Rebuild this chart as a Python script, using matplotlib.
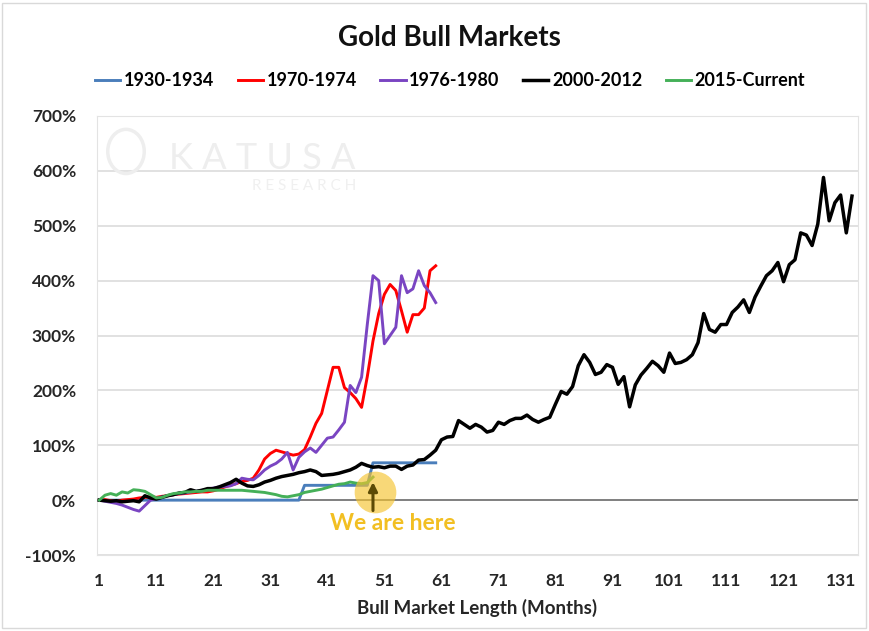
import matplotlib.pyplot as plt
from matplotlib.patches import Rectangle, Ellipse
from matplotlib.ticker import FuncFormatter

plt.rcParams['font.family'] = ['Lato', 'DejaVu Sans']

# months since start of each bull market, value = % gain
gold_1930 = [0] * 36 + [27] * 12 + [68] * 12

gold_1970 = [0, 1, -1, -2, 0, 1, 2, 4, 5, 6,
             5, 7, 8, 10, 11, 12, 13, 14, 15, 15,
             17, 20, 24, 27, 30, 34, 36, 40, 55, 75,
             85, 91, 88, 85, 82, 84, 92, 115, 140, 158,
             200, 242, 242, 205, 196, 185, 169, 225, 290, 340,
             375, 393, 382, 345, 306, 338, 338, 350, 418, 427]

gold_1976 = [0, -2, -4, -6, -9, -13, -17, -20, -10, 0,
             3, 6, 8, 10, 12, 13, 15, 16, 18, 20,
             22, 24, 25, 26, 30, 40, 38, 37, 45, 55,
             62, 67, 75, 87, 55, 78, 88, 95, 87, 100,
             113, 115, 128, 142, 209, 196, 224, 320, 409, 400,
             285, 300, 315, 409, 378, 385, 418, 391, 378, 360]

gold_2000 = [0, -1, -2, -1, -3, -2, -1, -3, 8, 4,
             2, 5, 8, 10, 13, 14, 19, 16, 18, 21,
             21, 24, 28, 32, 38, 31, 26, 25, 28, 33,
             36, 40, 43, 45, 47, 50, 52, 55, 52, 45,
             46, 47, 49, 52, 55, 60, 67, 63, 60, 61,
             59, 62, 62, 56, 62, 64, 73, 74, 82, 91,
             110, 115, 116, 145, 138, 131, 138, 133, 124, 127,
             142, 138, 145, 149, 149, 155, 147, 142, 147, 151,
             175, 198, 193, 207, 245, 265, 251, 229, 233, 247,
             242, 211, 225, 170, 210, 228, 240, 253, 245, 233,
             268, 249, 251, 256, 265, 287, 340, 311, 306, 320,
             320, 342, 352, 365, 342, 370, 390, 409, 418, 433,
             398, 429, 438, 487, 483, 464, 503, 588, 509, 542,
             556, 487, 554]

gold_2015 = [0, 9, 12, 9, 15, 13, 19, 18, 16, 10,
             4, 5, 9, 12, 13, 15, 15, 16, 16, 18,
             18, 18, 18, 18, 18, 18, 17, 16, 15, 14,
             12, 10, 7, 6, 8, 10, 14, 16, 18, 20,
             23, 26, 29, 30, 33, 31, 30, 32, 42]

series = [
    ("1930-1934", gold_1930, "#4a7ebb"),
    ("1970-1974", gold_1970, "#ff0000"),
    ("1976-1980", gold_1976, "#7a45c2"),
    ("2000-2012", gold_2000, "#000000"),
    ("2015-Current", gold_2015, "#45b058"),
]

x_ticks = list(range(1, 132, 10))
y_ticks = list(range(-100, 701, 100))

fig = plt.figure(figsize=(8.69, 6.31), dpi=100)
ax = fig.add_axes([0.1116, 0.1204, 0.8754, 0.6958])

for name, vals, col in series:
    months = list(range(1, len(vals) + 1))
    lw = 2.5 if col == "#000000" else 2.1
    ax.plot(months, vals, color=col, lw=lw, label=name, zorder=3)

ax.set_xlim(0.6, 134)
ax.set_ylim(-100, 700)
ax.set_xticks(x_ticks)
ax.set_yticks(y_ticks)
ax.yaxis.set_major_formatter(FuncFormatter(lambda v, p: f"{int(v)}%"))
ax.tick_params(length=0, labelsize=12.5, colors="#262626")
ax.tick_params(axis="y", pad=15)
ax.tick_params(axis="x", pad=13)
for lab in ax.get_xticklabels() + ax.get_yticklabels():
    lab.set_fontweight("bold")

ax.grid(axis="y", color="#dcdcdc", lw=1.2)
ax.axhline(0, color="#808080", lw=1.4, zorder=2)
ax.set_axisbelow(True)
for s in ax.spines.values():
    s.set_color("#e3e3e3")

ax.set_xlabel("Bull Market Length (Months)", fontsize=13.5, fontweight="bold",
              color="#262626", labelpad=7)

# "We are here" marker
ax.scatter([49.4], [15], s=900, color="#f5c330", alpha=0.65, lw=0, zorder=4)
ax.annotate("", xy=(49, 38), xytext=(49, -24),
            arrowprops=dict(arrowstyle="-|>", color="#5c4a05", lw=2.2,
                            mutation_scale=13), zorder=5)
ax.text(52.4, -43, "We are here", color="#f2bf22", fontsize=16.5,
        fontweight="bold", ha="center", va="center", zorder=5)

# watermark
fig.text(0.302, 0.749, "K A T U S A", color="#eeeeee", fontsize=26,
         ha="center", va="center", zorder=0)
fig.text(0.350, 0.705, "R E S E A R C H", color="#f0f0f0", fontsize=11,
         ha="center", va="center", zorder=0)
fig.patches.append(Ellipse((0.145, 0.76), 0.042, 0.07, transform=fig.transFigure,
                           fill=False, ec="#eeeeee", lw=2.5))

fig.suptitle("Gold Bull Markets", x=0.517, y=0.96, fontsize=20,
             fontweight="bold", color="#111111")
fig.legend(loc="center", bbox_to_anchor=(0.518, 0.872), ncol=5, frameon=False,
           handlelength=1.4, handletextpad=0.2, columnspacing=1.3,
           prop={"size": 13, "weight": "bold"})

fig.patches.append(Rectangle((0.002, 0.004), 0.994, 0.992, transform=fig.transFigure,
                             fill=False, ec="#d9d9d9", lw=1))

fig.savefig("out.png", dpi=100)
